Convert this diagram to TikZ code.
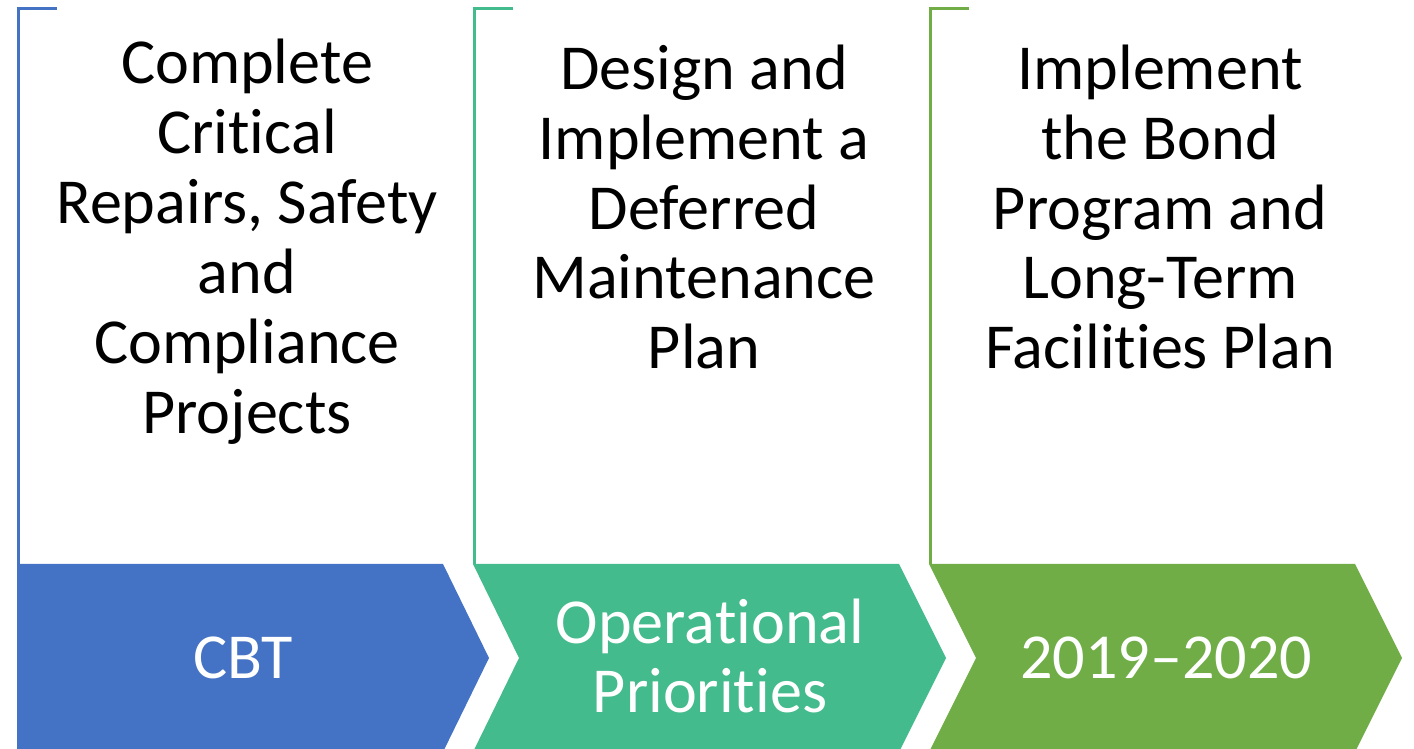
\documentclass[tikz,border=0pt]{standalone}
\usepackage{fontspec}
\setmainfont{Carlito}[Ligatures=NoCommon]
\usepackage{tikz}
\usetikzlibrary{calc}
\definecolor{cbtblue}{HTML}{4472C4}
\definecolor{opteal}{HTML}{44BB8C}
\definecolor{bondgreen}{HTML}{70AD47}
\newcommand{\tinolig}{t\kern0pt i}
\tikzset{
  toptext/.style={align=center, text=black, font=\fontsize{36.5}{39.8}\selectfont},
  arrowtext/.style={align=center, text=white, font=\fontsize{36.5}{38.8}\selectfont},
  bracket/.style={line width=0.06cm}
}

\begin{document}
\begin{tikzpicture}[x=0.02cm, y=-0.02cm]
\useasboundingbox (0,0) rectangle (1414,749);
\clip (0,0) rectangle (1414,749);
% brackets
\draw[bracket, cbtblue] (57,8.5) -- (18.5,8.5) -- (18.5,564);
\draw[bracket, opteal] (513,8.5) -- (474.5,8.5) -- (474.5,564);
\draw[bracket, bondgreen] (969,8.5) -- (930.5,8.5) -- (930.5,564);
% chevrons
\fill[cbtblue] (17,564) -- (443,564) -- (489,658) -- (443,752) -- (17,752) -- cycle;
\fill[opteal] (473,564) -- (899,564) -- (946,658) -- (899,752) -- (473,752) -- (519,658) -- cycle;
\fill[bondgreen] (929,564) -- (1355,564) -- (1402,658) -- (1355,752) -- (929,752) -- (976,658) -- cycle;
% texts
\node[toptext] (repairs) at (247,242) {Complete\\Cri\tinolig cal\\Repairs, Safety\\and\\Compliance\\Projects};
\node[toptext] (deferred) at (704,207) {Design and\\Implement a\\Deferred\\Maintenance\\Plan};
\node[toptext] (bond) at (1160,207) {Implement\\the Bond\\Program and\\Long-Term\\Facili\tinolig es Plan};
\node[arrowtext] (cbt) at (243,658) {CBT};
\node[arrowtext] (oper) at (710,656) {Opera\tinolig onal\\Priori\tinolig es};
\node[arrowtext] (years) at (1166,658) {2019--2020};
\end{tikzpicture}
\end{document}
